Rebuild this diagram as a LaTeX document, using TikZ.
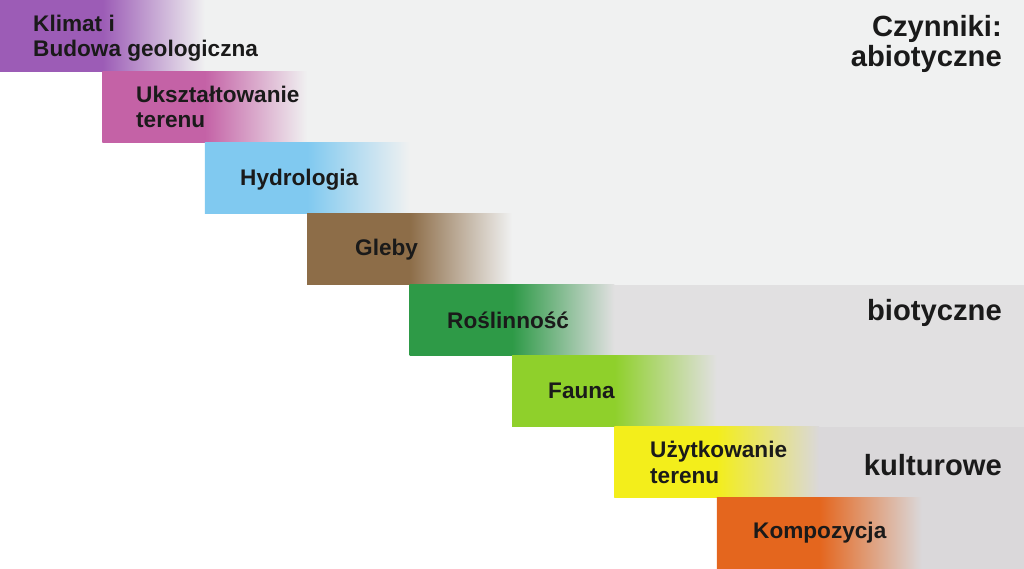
\documentclass[tikz,border=0pt]{standalone}
\usepackage{fontspec}
\setmainfont{Liberation Sans}

\definecolor{klimatc}{HTML}{9C5CB6}
\definecolor{rzezbac}{HTML}{C462A6}
\definecolor{hydroc}{HTML}{80C9F0}
\definecolor{glebyc}{HTML}{8D6D48}
\definecolor{roslinc}{HTML}{2E9A47}
\definecolor{faunac}{HTML}{8FD02B}
\definecolor{uzytkc}{HTML}{F3EE1B}
\definecolor{kompozc}{HTML}{E4661E}
\definecolor{abio}{HTML}{F0F1F1}
\definecolor{bio}{HTML}{E1E0E1}
\definecolor{kult}{HTML}{DAD8DA}
\definecolor{ink}{HTML}{1A1A1A}

\tikzset{
  block/.style={anchor=north west, minimum width=204.8pt, minimum height=71.125pt,
    inner sep=0pt, outer sep=0pt},
  txt/.style={anchor=base west, inner sep=0pt, text=ink, align=left,
    font=\bfseries\fontsize{22.6}{25.5}\selectfont},
  bigtxt/.style={anchor=base east, inner sep=0pt, text=ink, align=right,
    font=\bfseries\fontsize{29.2}{30}\selectfont}
}

\begin{document}
\begin{tikzpicture}[x=1pt,y=-1pt]
\useasboundingbox (0,0) rectangle (1024,569);

% tlo
\fill[abio] (0,0) rectangle (1024,71.125);
\fill[abio] (102.4,71.125) rectangle (1024,142.25);
\fill[abio] (204.8,142.25) rectangle (1024,213.375);
\fill[abio] (307.2,213.375) rectangle (1024,284.5);
\fill[bio] (409.6,284.5) rectangle (1024,355.625);
\fill[bio] (512,355.625) rectangle (1024,426.75);
\fill[kult] (614.4,426.75) rectangle (1024,497.875);
\fill[kult] (716.8,497.875) rectangle (1024,569);

% schody
\node[block, left color=klimatc, right color=abio, middle color=klimatc] (klimat) at (0,0) {};
\node[block, left color=rzezbac, right color=abio, middle color=rzezbac] (rzezba) at (102.4,71.125) {};
\node[block, left color=hydroc, right color=abio, middle color=hydroc] (hydro) at (204.8,142.25) {};
\node[block, left color=glebyc, right color=abio, middle color=glebyc] (gleby) at (307.2,213.375) {};
\node[block, left color=roslinc, right color=bio, middle color=roslinc] (roslin) at (409.6,284.5) {};
\node[block, left color=faunac, right color=bio, middle color=faunac] (fauna) at (512,355.625) {};
\node[block, left color=uzytkc, right color=kult, middle color=uzytkc] (uzytk) at (614.4,426.75) {};
\node[block, left color=kompozc, right color=kult, middle color=kompozc] (kompoz) at (716.8,497.875) {};

\node[txt] at (33,57) (t_klimat) {Klimat i\\Budowa geologiczna};
\node[txt] at (136,128) (t_rzezba) {Ukształtowanie\\terenu};
\node[txt] at (240,186) (t_hydro) {Hydrologia};
\node[txt] at (355,255) (t_gleby) {Gleby};
\node[txt] at (447,328) (t_roslin) {Roślinność};
\node[txt] at (548,398) (t_fauna) {Fauna};
\node[txt] at (650,483) (t_uzytk) {Użytkowanie\\terenu};
\node[txt] at (753,538) (t_kompoz) {Kompozycja};

%%%%%%%%%%%%%%%%%%%%%%%%%%%%%%%%%%%%%%
\node[bigtxt] at (1002,67) (t_abio) {Czynniki:\\abiotyczne};
\node[bigtxt] at (1002,320) (t_bio) {biotyczne};
\node[bigtxt] at (1002,475) (t_kult) {kulturowe};

\end{tikzpicture}
\end{document}
